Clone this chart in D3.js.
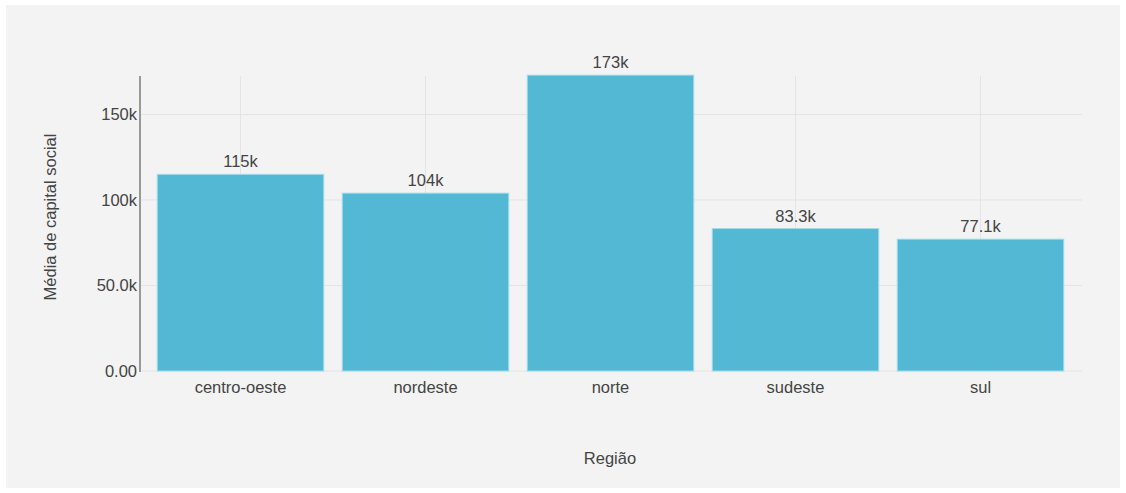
<!DOCTYPE html>
<html><head><meta charset="utf-8">
<script src="https://cdn.jsdelivr.net/npm/d3@7"></script>
<style>html,body{margin:0;padding:0;background:#fff;}svg{display:block;}</style>
</head><body>
<svg id="c" width="1126" height="493"></svg>
<script>
const categories = ["centro-oeste","nordeste","norte","sudeste","sul"];
const values = [115000, 104000, 173000, 83300, 77100];
const valueLabels = ["115k","104k","173k","83.3k","77.1k"];
const yTicks = [0, 50000, 100000, 150000];
const yTickLabels = ["0.00","50.0k","100k","150k"];
const xTitle = "Região";
const yTitle = "Média de capital social";

(function(){
const svg = d3.select("#c");
const font = "'Liberation Sans', Arial, sans-serif";
const fs = 16.5;
svg.append("rect").attr("x",6).attr("y",5).attr("width",1114).attr("height",483).attr("fill","#f3f3f3");

const pl = 140, pr = 1082, pt = 76, pb = 371;
const x = d3.scaleBand().domain(categories).range([148, 1073]).paddingInner(0.1).paddingOuter(0.05);
const y = d3.scaleLinear().domain([0, 172500]).range([pb, pt]);

const g = svg.append("g");
g.selectAll("line.hg").data(yTicks).join("line")
  .attr("x1", pl).attr("x2", pr)
  .attr("y1", d=>y(d)).attr("y2", d=>y(d))
  .attr("stroke","#e4e4e4").attr("stroke-width",1);
g.selectAll("line.vg").data(categories).join("line")
  .attr("x1", d=>x(d)+x.bandwidth()/2).attr("x2", d=>x(d)+x.bandwidth()/2)
  .attr("y1", pt).attr("y2", pb)
  .attr("stroke","#e4e4e4").attr("stroke-width",1);

g.selectAll("rect.bar").data(values).join("rect")
  .attr("x",(d,i)=>x(categories[i])).attr("width",x.bandwidth())
  .attr("y",d=>y(d)).attr("height",d=>y(0)-y(d))
  .attr("fill","#52b8d3").attr("stroke","#9fdcec").attr("stroke-width",1);

g.selectAll("text.vl").data(values).join("text")
  .attr("x",(d,i)=>x(categories[i])+x.bandwidth()/2)
  .attr("y",d=>y(d)-7)
  .attr("text-anchor","middle").attr("font-family",font).attr("font-size",fs).attr("fill","#444")
  .text((d,i)=>valueLabels[i]);

svg.append("line").attr("x1",pl).attr("x2",pl).attr("y1",pt).attr("y2",pb+1)
  .attr("stroke","#999").attr("stroke-width",2);

svg.append("g").selectAll("text").data(yTicks).join("text")
  .attr("x", pl-3).attr("y", d=>y(d)).attr("dy","0.35em")
  .attr("text-anchor","end").attr("font-family",font).attr("font-size",fs).attr("fill","#444")
  .text((d,i)=>yTickLabels[i]);

svg.append("g").selectAll("text").data(categories).join("text")
  .attr("x", d=>x(d)+x.bandwidth()/2).attr("y", pb+22)
  .attr("text-anchor","middle").attr("font-family",font).attr("font-size",fs).attr("fill","#444")
  .text(d=>d);

svg.append("text").attr("x",610).attr("y",464).attr("text-anchor","middle")
  .attr("font-family",font).attr("font-size",fs).attr("fill","#444").text(xTitle);
svg.append("text").attr("transform","translate(56,217) rotate(-90)").attr("text-anchor","middle")
  .attr("font-family",font).attr("font-size",fs).attr("fill","#444").text(yTitle);
})();
</script>
</body></html>
